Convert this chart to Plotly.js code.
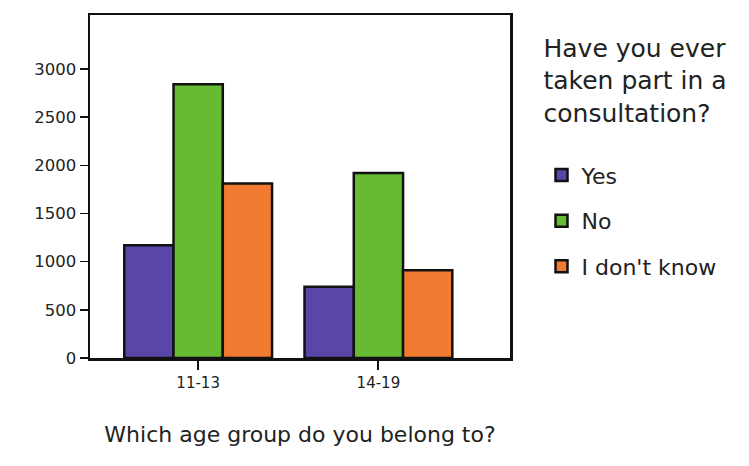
<!DOCTYPE html>
<html>
<head>
<meta charset="utf-8">
<script src="https://cdn.plot.ly/plotly-3.0.1.min.js"></script>
<style>html,body{margin:0;padding:0;background:#fff;}#chart{width:749px;height:466px;}</style>
</head>
<body>
<div id="chart"></div>
<script>
const ageGroups = ["11-13", "14-19"];
const seriesNames = ["Yes", "No", "I don't know"];
const yesValues = [1170, 740];
const noValues = [2840, 1920];
const dontKnowValues = [1810, 910];
const yTickValues = [0, 500, 1000, 1500, 2000, 2500, 3000];
const yTickLabels = ["0", "500", "1000", "1500", "2000", "2500", "3000"];
const seriesColors = ["#5a46a8", "#66bb33", "#f07a30"];

const font = "DejaVu Sans, Noto Sans, sans-serif";
const allValues = [yesValues, noValues, dontKnowValues];
const traces = allValues.map((vals, i) => ({
  type: "bar",
  x: ageGroups,
  y: vals,
  name: seriesNames[i],
  legendgroup: "g" + i,
  marker: {color: seriesColors[i], line: {color: "#111", width: 2.5}}
}));

const layout = {
  width: 749, height: 466,
  margin: {l: 90, r: 239, t: 15, b: 108, autoexpand: false},
  paper_bgcolor: "#fff", plot_bgcolor: "#fff",
  barmode: "group", bargap: 0.18, bargroupgap: 0,
  font: {family: font, color: "#222", size: 15},
  xaxis: {
    type: "category",
    range: [-0.6, 1.73],
    showline: true, linecolor: "#111", linewidth: 2.5, mirror: true,
    ticks: "outside", ticklen: 9, tickcolor: "#111", tickwidth: 2,
    tickfont: {size: 15, family: font, color: "#222"},
    title: {text: "Which age group do you belong to?", font: {size: 22, family: font, color: "#222"}, standoff: 36}
  },
  yaxis: {
    range: [0, 3560],
    tickvals: yTickValues, ticktext: yTickLabels,
    showline: true, linecolor: "#111", linewidth: 2.5, mirror: true,
    showgrid: false, zeroline: false,
    ticks: "outside", ticklen: 8, tickcolor: "#111", tickwidth: 1.5,
    tickfont: {size: 16.5, family: font, color: "#222"}
  },
  showlegend: true,
  legend: {
    x: 1.075, xanchor: "left",
    yref: "container", y: 0.948, yanchor: "top",
    maxheight: 440,
    font: {size: 22, family: font, color: "#222"},
    title: {text: "Have you ever<br>taken part in a<br>consultation?<br> ", font: {size: 25, family: font, color: "#222"}},
    tracegroupgap: 14,
    itemwidth: 30
  }
};

Plotly.newPlot("chart", traces, layout, {displayModeBar: false, staticPlot: true});
</script>
</body>
</html>
